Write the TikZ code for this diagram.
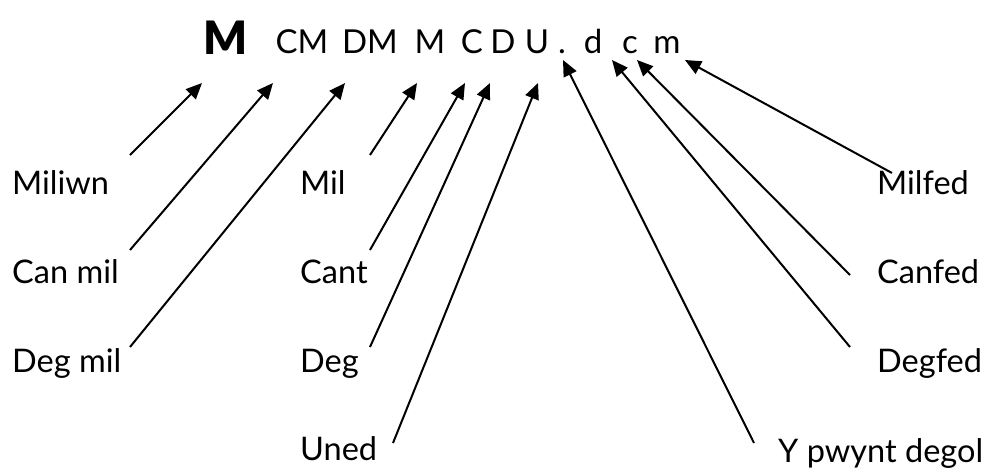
\documentclass[tikz,border=0pt]{standalone}
\usepackage{fontspec}
\setmainfont{Lato}
\newfontfamily\heavyfont{Lato Black}
\usetikzlibrary{arrows.meta}
\begin{document}
\begin{tikzpicture}[x=1pt,y=-1pt,
  lbl/.style={inner sep=0pt, anchor=base west, font=\fontsize{32.5}{36}\selectfont},
  dig/.style={inner sep=0pt, anchor=base, font=\fontsize{33}{35}\selectfont},
  ptr/.style={line width=2pt, -{Triangle[length=16pt,width=14pt]}}]
\useasboundingbox (0,0) rectangle (989,467);

% place-value headings
\node[dig, font=\fontsize{46}{48}\heavyfont] (Mbig) at (226,54) {M};
\node[dig] (CM) at (302,53) {CM};
\node[dig] (DM) at (370,53) {DM};
\node[dig] (Mth) at (430,53) {M};
\node[dig] (C) at (472,53) {C};
\node[dig] (D) at (503,53) {D};
\node[dig] (U) at (537,53) {U};
\node[dig] (pt) at (562,53) {.};
\node[dig] (d) at (593,53) {d};
\node[dig] (c) at (630,53) {c};
\node[dig] (m) at (667,53) {m};

% names of the places
\node[lbl] (miliwn) at (12,194) {Miliwn};
\node[lbl] (canmil) at (12,283) {Can mil};
\node[lbl] (degmil) at (12,372) {Deg mil};
\node[lbl] (mil) at (300,194) {Mil};
\node[lbl] (cant) at (300,283) {Cant};
\node[lbl] (deg) at (300,372) {Deg};
\node[lbl] (uned) at (300,460) {Uned};
\node[lbl] (milfed) at (877,194) {Milfed};
\node[lbl] (canfed) at (877,283) {Canfed};
\node[lbl] (degfed) at (877,372) {Degfed};
\node[lbl] (ypwynt) at (778,462) {Y pwynt degol};

% arrow ends
\coordinate (tMbig) at (202,83);
\coordinate (tCM) at (273,83);
\coordinate (tDM) at (345,83);
\coordinate (tMth) at (417,83);
\coordinate (tC) at (465,83);
\coordinate (tD) at (490,83);
\coordinate (tU) at (538,83);
\coordinate (tpt) at (563,60);
\coordinate (td) at (612,60);
\coordinate (tc) at (637,60);
\coordinate (tm) at (685,60);

\coordinate (sMiliwn) at (130,155);
\coordinate (sCanmil) at (130,250);
\coordinate (sDegmil) at (130,347);
\coordinate (sMil) at (370,155);
\coordinate (sCant) at (370,250);
\coordinate (sDeg) at (370,347);
\coordinate (sUned) at (393,443);
\coordinate (sYpwynt) at (754,443);
\coordinate (sDegfed) at (850,347);
\coordinate (sCanfed) at (850,275);
\coordinate (sMilfed) at (892,173);

\draw[ptr] (sMiliwn) -- (tMbig);
\draw[ptr] (sCanmil) -- (tCM);
\draw[ptr] (sDegmil) -- (tDM);
\draw[ptr] (sMil) -- (tMth);
\draw[ptr] (sCant) -- (tC);
\draw[ptr] (sDeg) -- (tD);
\draw[ptr] (sUned) -- (tU);
\draw[ptr] (sYpwynt) -- (tpt);
\draw[ptr] (sDegfed) -- (td);
\draw[ptr] (sCanfed) -- (tc);
\draw[ptr] (sMilfed) -- (tm);
\end{tikzpicture}
\end{document}
